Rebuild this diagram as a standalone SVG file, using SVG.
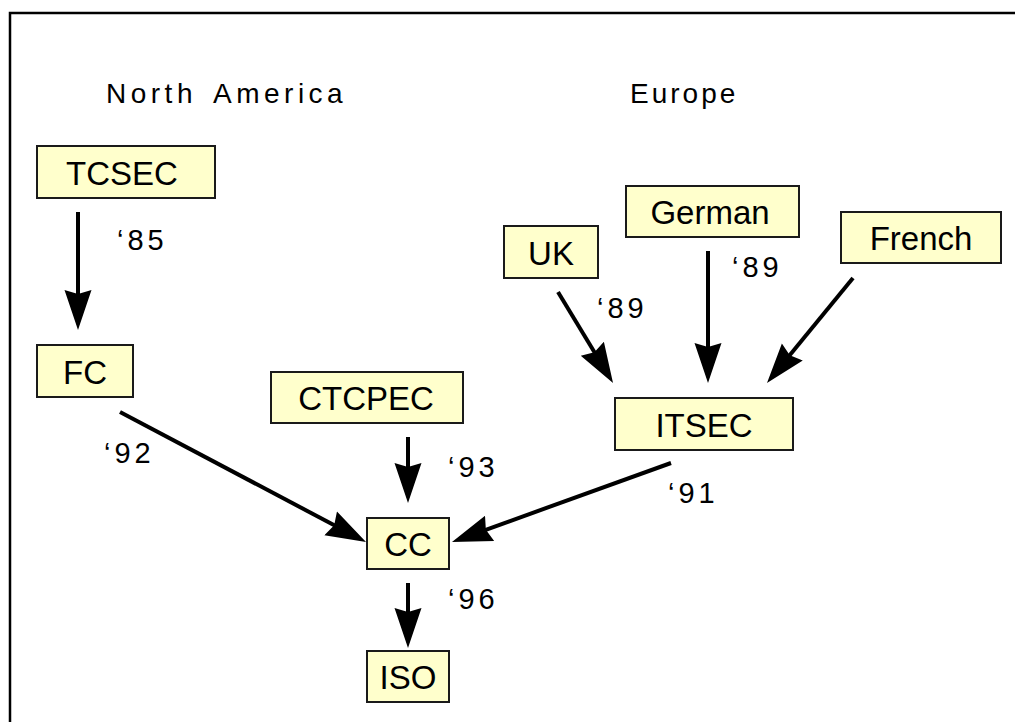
<svg xmlns="http://www.w3.org/2000/svg" width="1015" height="722" viewBox="0 0 1015 722">
  <style>
    .frame { fill: none; stroke: #000; stroke-width: 2.5; }
    .box { fill: #ffffcc; stroke: #1a1a1a; stroke-width: 2; }
    .name { font-family: "Liberation Sans", Arial, sans-serif; font-size: 33px; fill: #000; text-anchor: middle; }
    .region { font-family: "Liberation Sans", Arial, sans-serif; font-size: 28px; fill: #000; letter-spacing: 3px; }
    .wide { letter-spacing: 4.5px; }
    .year { font-family: "Liberation Sans", Arial, sans-serif; font-size: 29px; fill: #000; letter-spacing: 4px; }
    .edge { fill: none; stroke: #000; stroke-width: 4; }
  </style>
  <defs>
    <marker id="head" markerUnits="userSpaceOnUse" markerWidth="44" markerHeight="30" viewBox="0 -15 44 30" refX="10" refY="0" orient="auto">
      <path d="M40,0 L0,-13.5 L4,0 L0,13.5 Z" fill="#000"/>
    </marker>
  </defs>

  <rect width="1015" height="722" fill="#fff"/>
  <rect class="frame" x="10" y="13" width="1015" height="720"/>

  <text class="region wide" y="103"><tspan x="106">North</tspan><tspan x="213">America</tspan></text>
  <text class="region" x="630" y="103">Europe</text>

  <g id="connectors">
    <line class="edge" x1="78" y1="212" x2="78" y2="300" marker-end="url(#head)"/>
    <line class="edge" x1="558" y1="292" x2="597.5" y2="357.3" marker-end="url(#head)"/>
    <line class="edge" x1="708" y1="251" x2="708" y2="353" marker-end="url(#head)"/>
    <line class="edge" x1="853" y1="278" x2="786" y2="359.8" marker-end="url(#head)"/>
    <line class="edge" x1="120" y1="412" x2="339.5" y2="528" marker-end="url(#head)"/>
    <line class="edge" x1="408" y1="437" x2="408" y2="473" marker-end="url(#head)"/>
    <line class="edge" x1="671" y1="463" x2="480.2" y2="531.8" marker-end="url(#head)"/>
    <line class="edge" x1="408" y1="583" x2="408" y2="618" marker-end="url(#head)"/>
    <text class="year" x="117" y="250">‘85</text>
    <text class="year" x="597" y="318">‘89</text>
    <text class="year" x="732" y="277">‘89</text>
    <text class="year" x="104" y="463">‘92</text>
    <text class="year" x="448" y="477">‘93</text>
    <text class="year" x="668" y="503">‘91</text>
    <text class="year" x="448" y="609">‘96</text>
  </g>

  <g id="node-tcsec">
    <rect class="box" x="37" y="146" width="178" height="52"/>
    <text class="name" x="122" y="184.5">TCSEC</text>
  </g>
  <g id="node-fc">
    <rect class="box" x="37" y="345" width="96" height="52"/>
    <text class="name" x="85" y="383.5">FC</text>
  </g>
  <g id="node-ctcpec">
    <rect class="box" x="271" y="372" width="192" height="51"/>
    <text class="name" x="366" y="410">CTCPEC</text>
  </g>
  <g id="node-uk">
    <rect class="box" x="504" y="226" width="94" height="52"/>
    <text class="name" x="551" y="264.5">UK</text>
  </g>
  <g id="node-german">
    <rect class="box" x="626" y="186" width="173" height="51"/>
    <text class="name" x="710" y="224">German</text>
  </g>
  <g id="node-french">
    <rect class="box" x="841" y="212" width="160" height="51"/>
    <text class="name" x="921" y="250">French</text>
  </g>
  <g id="node-itsec">
    <rect class="box" x="615" y="398" width="178" height="52"/>
    <text class="name" x="704" y="436.5">ITSEC</text>
  </g>
  <g id="node-cc">
    <rect class="box" x="367" y="518" width="82" height="51"/>
    <text class="name" x="408" y="556">CC</text>
  </g>
  <g id="node-iso">
    <rect class="box" x="367" y="651" width="82" height="51"/>
    <text class="name" x="408" y="689">ISO</text>
  </g>
</svg>
